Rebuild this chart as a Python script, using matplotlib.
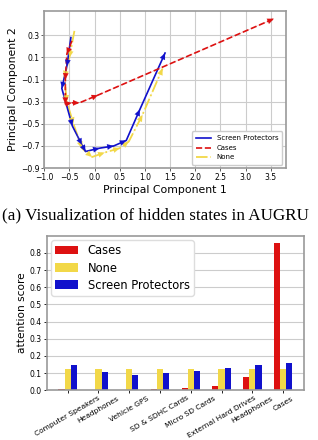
import matplotlib
matplotlib.use("Agg")
import matplotlib.pyplot as plt
import numpy as np

# ---- Data: PCA trajectories ----
sp_x = [-0.47, -0.55, -0.65, -0.44, -0.25, -0.18, 0.10, 0.38, 0.63, 0.90, 1.40]
sp_y = [0.28, 0.02, -0.18, -0.52, -0.69, -0.75, -0.72, -0.70, -0.65, -0.37, 0.14]
cases_x = [-0.45, -0.55, -0.58, -0.58, -0.45, -0.30, 0.07, 3.56]
cases_y = [0.25, 0.13, -0.10, -0.32, -0.31, -0.31, -0.24, 0.45]
none_x = [-0.40, -0.50, -0.60, -0.55, -0.42, -0.25, -0.05, 0.20, 0.50, 0.68, 0.95, 1.35]
none_y = [0.34, 0.10, -0.08, -0.30, -0.50, -0.72, -0.80, -0.76, -0.72, -0.66, -0.42, 0.00]

# ---- Data: attention scores ----
categories = ["Computer Speakers", "Headphones", "Vehicle GPS", "SD & SDHC Cards",
              "Micro SD Cards", "External Hard Drives", "Headphones", "Cases"]
att_cases = [0.005, 0.002, 0.002, 0.005, 0.012, 0.025, 0.08, 0.86]
att_none = [0.125, 0.125, 0.125, 0.125, 0.125, 0.125, 0.125, 0.125]
att_sp = [0.147, 0.107, 0.090, 0.098, 0.113, 0.127, 0.150, 0.157]

caption = "(a) Visualization of hidden states in AUGRU"

RED = "#dd1111"
YEL = "#f2d848"
BLU = "#1111cc"

fig = plt.figure(figsize=(3.18, 4.40), dpi=100)

# ---------------- top plot ----------------
ax1 = fig.add_axes([0.139, 0.618, 0.760, 0.357])


def draw_traj(ax, xs, ys, color, ls, label, lw=1.2):
    ax.plot(xs, ys, color=color, ls=ls, lw=lw, label=label)
    for i in range(len(xs) - 1):
        ax.annotate("", xy=(xs[i + 1], ys[i + 1]), xytext=(xs[i], ys[i]),
                    arrowprops=dict(arrowstyle="-|>,head_length=0.45,head_width=0.2",
                                    color=color, lw=0.1, shrinkA=0, shrinkB=0))


draw_traj(ax1, none_x, none_y, YEL, "-.", "None", lw=1.3)
draw_traj(ax1, sp_x, sp_y, BLU, "-", "Screen Protectors")
draw_traj(ax1, cases_x, cases_y, RED, "--", "Cases")

ax1.set_xlim(-1.0, 3.8)
ax1.set_ylim(-0.9, 0.52)
ax1.set_xticks(np.arange(-1.0, 3.51, 0.5))
ax1.set_yticks([-0.9, -0.7, -0.5, -0.3, -0.1, 0.1, 0.3])
ax1.grid(True, color="#cccccc", lw=0.8)
ax1.tick_params(labelsize=5.5, length=2.5, width=0.6, color="#444444", pad=1)
for s in ax1.spines.values():
    s.set_color("#999999")
    s.set_linewidth(1.2)
ax1.set_xlabel("Principal Component 1", fontsize=7.8, labelpad=2)
ax1.set_ylabel("Principal Component 2", fontsize=7.8, labelpad=2)
h, l = ax1.get_legend_handles_labels()
order = [l.index("Screen Protectors"), l.index("Cases"), l.index("None")]
ax1.legend([h[i] for i in order], [l[i] for i in order], loc="lower right",
           fontsize=5, handlelength=2.2, borderpad=0.6, labelspacing=0.5,
           framealpha=1, edgecolor="#cccccc")

# ---------------- caption ----------------
fig.text(0.005, 0.511, caption, fontsize=12.3, family="Liberation Serif",
         ha="left", va="center")

# ---------------- bottom plot ----------------
ax2 = fig.add_axes([0.147, 0.113, 0.809, 0.351])
x = np.arange(len(categories))
w = 0.2
ax2.bar(x - w, att_cases, w, color=RED, label="Cases")
ax2.bar(x, att_none, w, color=YEL, label="None")
ax2.bar(x + w, att_sp, w, color=BLU, label="Screen Protectors")
ax2.set_ylim(0, 0.9)
ax2.set_yticks(np.arange(0, 0.81, 0.1))
ax2.set_yticklabels([f"{v:.1f}" for v in np.arange(0, 0.81, 0.1)])
ax2.set_xticks(x)
ax2.set_xticklabels(categories, rotation=30, ha="center", fontsize=5.4)
ax2.yaxis.grid(True, color="#cccccc", lw=0.8)
ax2.set_axisbelow(True)
ax2.tick_params(axis="y", labelsize=5.5, length=2.5, width=0.6, pad=1)
ax2.tick_params(axis="x", length=2.5, width=0.6, pad=1)
for s in ax2.spines.values():
    s.set_color("#999999")
    s.set_linewidth(1.2)
ax2.set_ylabel("attention score", fontsize=7.6, labelpad=2)
ax2.legend(loc="upper left", fontsize=8.3, handlelength=2.0, borderpad=0.35,
           labelspacing=0.35, framealpha=1, edgecolor="#dddddd",
           borderaxespad=0.4)

fig.savefig("out.png", dpi=100)
